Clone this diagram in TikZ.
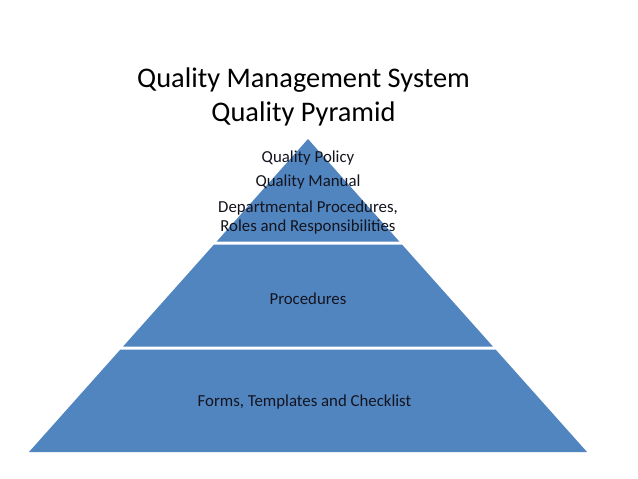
\documentclass[tikz,border=0pt]{standalone}
\usepackage{fontspec}
\setmainfont{Carlito}
\definecolor{pyrblue}{RGB}{81,133,192}
\definecolor{txtdark}{RGB}{20,20,30}
\begin{document}
\begin{tikzpicture}[x=1pt,y=-1pt,
  layer/.style={fill=pyrblue,draw=none},
  lbl/.style={text=txtdark,font=\fontsize{16.8}{19}\selectfont,align=center,inner sep=0pt},
  ttl/.style={text=black,font=\fontsize{28.4}{34}\selectfont,align=center,inner sep=0pt}]
\useasboundingbox[fill=white] (0,0) rectangle (638,479);
% pyramid layers (apex 308,139; base 29..587 at y=452)
\fill[layer] (308,139) -- (308+91.3,241.5) -- (308-91.3,241.5) -- cycle;
\fill[layer] (308-94.0,244.5) -- (308+94.0,244.5) -- (308+184.9,346.5) -- (308-184.9,346.5) -- cycle;
\fill[layer] (308-187.6,349.5) -- (308+187.6,349.5) -- (587,452) -- (29,452) -- cycle;
% title
\node[ttl] (t1) at (303.5,80) {Quality Management System};
\node[ttl] (t2) at (303.5,114) {Quality Pyramid};
% labels
\node[lbl] (policy) at (308,158) {Quality Policy};
\node[lbl] (manual) at (308,182) {Quality Manual};
\node[lbl] (dept) at (308,217.5) {Departmental Procedures,\\Roles and Responsibilities};
\node[lbl] (proc) at (308,299) {Procedures};
\node[lbl] (forms) at (304.5,402) {Forms, Templates and Checklist};
\end{tikzpicture}
\end{document}
